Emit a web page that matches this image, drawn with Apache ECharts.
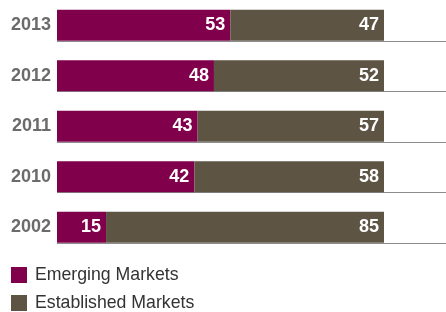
<!DOCTYPE html>
<html>
<head>
<meta charset="utf-8">
<script src="https://cdn.jsdelivr.net/npm/echarts@6/dist/echarts.min.js"></script>
<style>
  html, body { margin: 0; padding: 0; background: #fff; }
  #chart { width: 446px; height: 312px; }
</style>
</head>
<body>
<div id="chart"></div>
<script>
// 数据
const years = ['2013', '2012', '2011', '2010', '2002']
const emerging = [53, 48, 43, 42, 15]
const established = [47, 52, 57, 58, 85]

const BAR_H = 31
const labelStyle = {
  show: true,
  position: 'insideRight',
  distance: 5,
  color: '#fff',
  fontSize: 18,
  fontWeight: 'bold',
  fontFamily: 'Liberation Sans, Arial, sans-serif'
}

const myChart = echarts.init(document.getElementById('chart'))
myChart.setOption({
  animation: false,
  textStyle: { fontFamily: 'Liberation Sans, Arial, sans-serif' },
  grid: { left: 57, right: 62, top: 0, height: 252.5 },
  legend: {
    orient: 'vertical',
    left: 11,
    top: 266,
    padding: 0,
    itemWidth: 16,
    itemHeight: 16,
    itemGap: 10,
    icon: 'rect',
    data: ['Emerging Markets', 'Established Markets'],
    textStyle: { fontSize: 17.7, color: '#333', padding: [0, 0, 0, 3] }
  },
  xAxis: {
    type: 'value',
    min: 0,
    max: 100,
    show: false
  },
  yAxis: {
    type: 'category',
    data: years,
    inverse: true,
    axisLine: { show: false },
    axisTick: { show: false },
    axisLabel: {
      margin: 6,
      fontSize: 18,
      fontWeight: 'bold',
      color: '#6b6b6b'
    }
  },
  series: [
    {
      // 每根柱子下方的灰色横线
      type: 'custom',
      clip: false,
      silent: true,
      z: 1,
      data: years.map((y, i) => [0, i]),
      encode: { x: 0, y: 1 },
      renderItem: (params, api) => {
        const c = api.coord([0, api.value(1)])
        const y = Math.round(c[1] + BAR_H / 2) + 0.5
        return {
          type: 'line',
          shape: { x1: params.coordSys.x, y1: y, x2: api.getWidth(), y2: y },
          style: { stroke: '#8c8c8c', lineWidth: 1 }
        }
      }
    },
    {
      name: 'Emerging Markets',
      type: 'bar',
      stack: 'total',
      barWidth: BAR_H,
      z: 2,
      itemStyle: { color: '#80004c' },
      data: emerging,
      label: labelStyle
    },
    {
      name: 'Established Markets',
      type: 'bar',
      stack: 'total',
      barWidth: BAR_H,
      z: 2,
      itemStyle: { color: '#5e5444' },
      data: established,
      label: labelStyle
    }
  ]
})
</script>
</body>
</html>
